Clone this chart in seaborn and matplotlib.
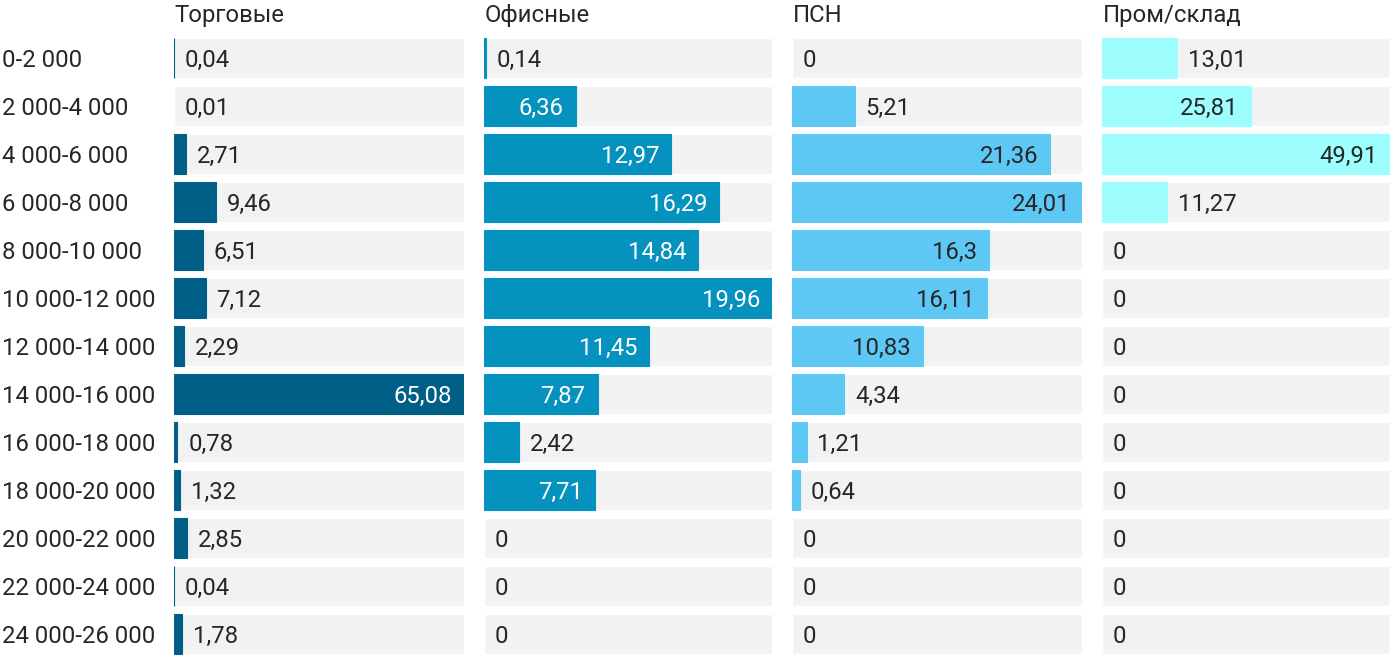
import matplotlib.pyplot as plt
import seaborn as sns
import pandas as pd

# ==========================================
# 1. DATA
# ==========================================
ranges = ["0-2 000", "2 000-4 000", "4 000-6 000", "6 000-8 000", "8 000-10 000",
          "10 000-12 000", "12 000-14 000", "14 000-16 000", "16 000-18 000",
          "18 000-20 000", "20 000-22 000", "22 000-24 000", "24 000-26 000"]

titles = ["Торговые", "Офисные", "ПСН", "Пром/склад"]

trade = [0.04, 0.01, 2.71, 9.46, 6.51, 7.12, 2.29, 65.08, 0.78, 1.32, 2.85, 0.04, 1.78]
office = [0.14, 6.36, 12.97, 16.29, 14.84, 19.96, 11.45, 7.87, 2.42, 7.71, 0, 0, 0]
psn = [0, 5.21, 21.36, 24.01, 16.3, 16.11, 10.83, 4.34, 1.21, 0.64, 0, 0, 0]
industrial = [13.01, 25.81, 49.91, 11.27, 0, 0, 0, 0, 0, 0, 0, 0, 0]

series = [trade, office, psn, industrial]

# ==========================================
# 2. STYLE
# ==========================================
colors = ["#005f87", "#0592be", "#5ec8f5", "#9efdfd"]
inside_text = ["white", "white", "#262626", "#262626"]
grey = "#f2f2f2"
text_color = "#262626"
fs = 17.2

sns.set_theme(style="white")
plt.rcParams['font.family'] = ['Roboto', 'DejaVu Sans']

fig = plt.figure(figsize=(14, 6.7), dpi=100)

W, H = 1400, 670
panel_x = [(174, 290), (484, 288), (792, 290), (1102, 288)]
top_px, bottom_px = 34, 658

def fmt(v):
    return f"{v:g}".replace(".", ",")

for i, (values, title) in enumerate(zip(series, titles)):
    left, width = panel_x[i]
    ax = fig.add_axes([left / W, (H - bottom_px) / H, width / W, (bottom_px - top_px) / H])

    vmax = max(values)
    df = pd.DataFrame({"range": ranges, "value": values, "bg": [vmax] * len(values)})

    # grey background track, then the value bar
    sns.barplot(data=df, x="bg", y="range", color=grey, width=0.833,
                saturation=1, ax=ax, orient="h")
    sns.barplot(data=df, x="value", y="range", color=colors[i], width=0.833,
                saturation=1, ax=ax, orient="h")

    # thin bars: a hairline edge keeps very small values visible
    for bar, v in zip(ax.patches[len(values):], values):
        if v >= 0.04:
            bar.set_edgecolor(colors[i])
            bar.set_linewidth(0.8)

    ax.set_xlim(0, vmax)
    ax.set_ylim(len(ranges) - 0.5, -0.5)

    for j, v in enumerate(values):
        label = fmt(v)
        if v / vmax > 0.3:
            ax.annotate(label, (v, j), xytext=(-8.6, 0), textcoords="offset points",
                        ha="right", va="center_baseline", fontsize=fs, color=inside_text[i])
        else:
            ax.annotate(label, (v, j), xytext=(7.8, 0), textcoords="offset points",
                        ha="left", va="center_baseline", fontsize=fs, color=text_color)

    ax.text(0.003, 1 + 21 / (bottom_px - top_px), title, transform=ax.transAxes,
            ha="left", va="center_baseline", fontsize=fs, color=text_color)

    ax.set_xlabel("")
    ax.set_ylabel("")
    ax.set_xticks([])
    ax.set_yticks([])
    sns.despine(ax=ax, left=True, bottom=True)

    if i == 0:
        for j, r in enumerate(ranges):
            ax.annotate(r, (0, j), xycoords=("figure fraction", "data"),
                        xytext=(2 * 0.72, 0), textcoords="offset points",
                        ha="left", va="center_baseline", fontsize=fs, color=text_color)

fig.savefig("out.png", dpi=100)
